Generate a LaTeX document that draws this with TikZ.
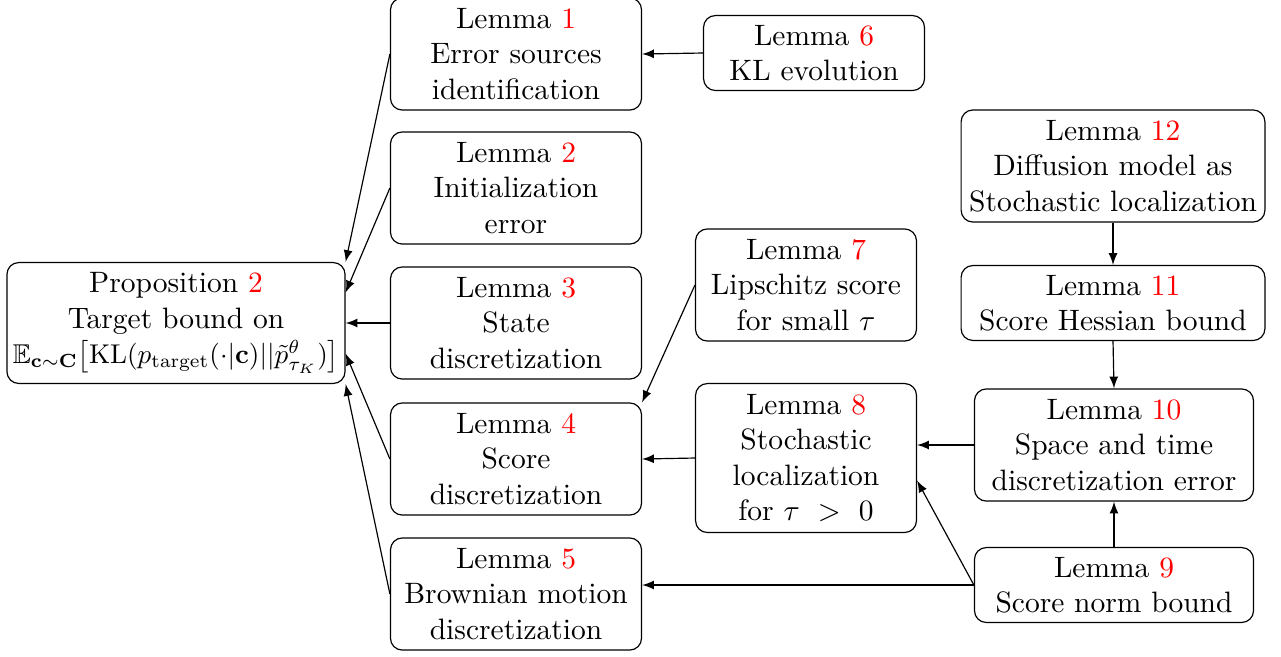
\documentclass[tikz,border=0pt]{standalone}
\usepackage{amsmath,amssymb}
\usepackage{graphicx}
\usepackage{xcolor}
\usetikzlibrary{arrows,calc,positioning}
\tikzset{
	lemma/.style={
		draw, rectangle, rounded corners,
		align=center, inner sep=1.5pt, text=black,
		minimum width=85.1pt, minimum height=38pt
	},
	short/.style={minimum height=25.4pt},
	link/.style={-latex, thin}
}
\newcommand{\rnum}[1]{\textcolor{red}{#1}}

\begin{document}
\begin{tikzpicture}[x=0.339pt,y=-0.339pt]
				\useasboundingbox (0,0) rectangle (1281,656);
				% target
				\node[lemma, minimum width=114.6pt, minimum height=41pt] (P) at (176,323)
					{Proposition \rnum{2}\\ Target bound on\\
					\scalebox{0.92}{$\mathbb{E}_{\mathbf{c}\sim\mathbf{C}}\big[\mathrm{KL}(p_{\mathrm{target}}(\cdot|\mathbf{c})||\tilde{p}^{\theta}_{\tau_K})\big]$}};
				% first column
				\node[lemma] (A) at (516,54)  {Lemma \rnum{1}\\ Error sources\\ identification};
				\node[lemma] (B) at (516,188) {Lemma \rnum{2}\\ Initialization\\ error};
				\node[lemma] (C) at (516,323) {Lemma \rnum{3}\\ State\\ discretization};
				\node[lemma] (D) at (516,459) {Lemma \rnum{4}\\ Score\\ discretization};
				\node[lemma] (E) at (516,594) {Lemma \rnum{5}\\ Brownian motion\\ discretization};
				% second column
				\node[lemma, short, minimum width=74.9pt] (F) at (814,53) {Lemma \rnum{6}\\ KL evolution};
				\node[lemma, minimum width=74.9pt] (G) at (806,285) {Lemma \rnum{7}\\ Lipschitz score\\ for small $\tau$};
				\node[lemma, minimum width=74.9pt, minimum height=50.5pt] (H) at (806,458)
					{Lemma \rnum{8}\\ Stochastic\\ localization\\ for $\tau\ >\ 0$};
				% third column
				\node[lemma, minimum width=103pt] (L) at (1113,166) {Lemma \rnum{12}\\ Diffusion model as\\ Stochastic localization};
				\node[lemma, short, minimum width=103pt] (K) at (1113,303) {Lemma \rnum{11}\\ Score Hessian bound};
				\node[lemma, minimum width=94.6pt] (J) at (1114,445) {Lemma \rnum{10}\\ Space and time\\ discretization error};
				\node[lemma, short, minimum width=94.6pt] (I) at (1114,585) {Lemma \rnum{9}\\ Score norm bound};
				% links
				\draw[link] (A.west) -- (P.north east);
				\draw[link] (B.west) -- ($(P.east)!0.5!(P.north east)$);
				\draw[link] (C.west) -- (P.east);
				\draw[link] (D.west) -- ($(P.east)!0.5!(P.south east)$);
				\draw[link] (E.west) -- (P.south east);
				\draw[link] (F.west) -- (A.east);
				\draw[link] (G.west) -- (D.north east);
				\draw[link] (H.west) -- (D.east);
				\draw[link] (L.south) -- (K.north);
				\draw[link] (K.south) -- (J.north);
				\draw[link] (J.west) -- (J.west -| H.east);
				\draw[link] (I.north) -- (J.south);
				\draw[link] (I.west) -- ($(H.east)!0.3!(H.south east)$);
				\draw[link] (I.west) -- (I.west -| E.east);
			\end{tikzpicture}
\end{document}
